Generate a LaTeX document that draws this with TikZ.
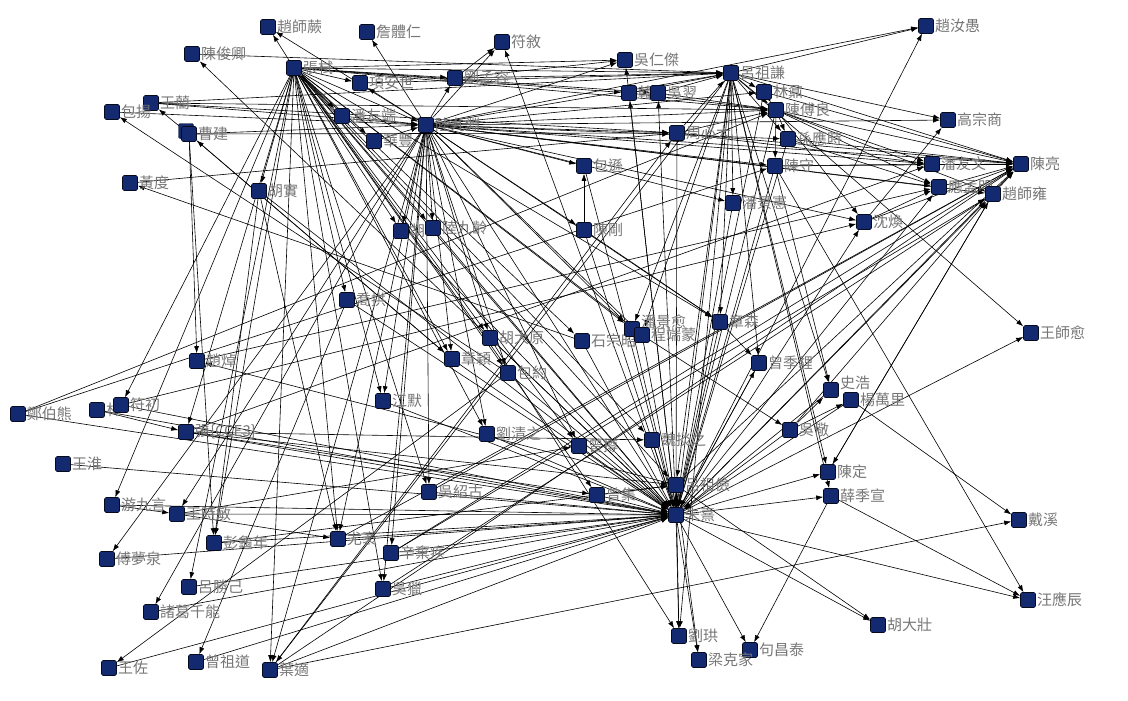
\documentclass[tikz,border=0pt]{standalone}
\usepackage{fontspec}
\setmainfont{Noto Sans CJK TC}
\usetikzlibrary{arrows.meta,backgrounds}
\definecolor{navy}{RGB}{20,42,112}
\definecolor{namegray}{RGB}{118,118,118}

\begin{document}
\begin{tikzpicture}[x=1pt,y=-1pt,
  >={Latex[length=7pt,width=5pt]},
  lbl/.style={text=namegray,font=\fontsize{15}{15}\selectfont,inner sep=1pt},
  actor/.style={draw=black!75!navy,fill=navy,rounded corners=1.5pt,
    minimum size=15pt,inner sep=0pt,line width=0.6pt,
    label={[lbl]right:#1}},
  raised/.style={draw=black!75!navy,fill=navy,rounded corners=1.5pt,
    minimum size=15pt,inner sep=0pt,line width=0.6pt,
    label={[lbl,yshift=7pt]right:#1}},
  tie/.style={->,line width=0.6pt}]

\useasboundingbox (0,0) rectangle (1128,701);

% top row
\node[actor=趙師蕨] (zsj) at (268,27) {};
\node[actor=詹體仁] (zti) at (367,32) {};
\node[actor=符敘] (fxu) at (502,42) {};
\node[actor=陳俊卿] (cjq) at (192,54) {};
\node[actor=張栻] (zs) at (294,68) {};
\node[actor=項安世] (xas) at (360,83) {};
\node[actor=劉孟容] (lmr) at (455,78) {};
\node[actor=吳仁傑] (wrj) at (625,60) {};
\node[actor=呂祖謙] (lzq) at (731,73) {};
\node[actor=趙汝愚] (zry) at (926,26) {};
\node[actor=王藺] (wl) at (151,103) {};
\node[actor=包揚] (by) at (112,112) {};
\node[draw=black!75!navy,fill=navy,rounded corners=1.5pt,minimum size=15pt,inner sep=0pt] at (186,131) {};
\node[actor=曹建] (cj) at (189,134) {};
\node[actor=黃度] (hd) at (130,183) {};
\node[actor=胡實] (hs) at (259,191) {};
\node[actor=潘友端] (pyd) at (342,116) {};
\node[actor=陸九淵] (ljy) at (426,125) {};
\node[actor=華豐] (hf) at (374,141) {};
\node[actor=韓] (han) at (629,93) {};
\node[actor=吳翌] (wy) at (658,93) {};
\node[actor=林鼐] (ln) at (764,92) {};
\node[actor=陳傅良] (cfl) at (776,110) {};
\node[actor=周必大] (zbd) at (677,133) {};
\node[actor=孫應時] (sys) at (788,139) {};
\node[actor=陳守] (cs) at (775,166) {};
\node[actor=包遜] (bx) at (584,166) {};
\node[actor=潘景憲] (pjx) at (733,203) {};
\node[actor=陳剛] (cg) at (584,230) {};
\node[actor=高宗商] (gzs) at (948,120) {};
\node[actor=潘友文] (pyw) at (932,164) {};
\node[actor=陳亮] (cl) at (1021,164) {};
\node[actor=應孟明] (ymm) at (939,187) {};
\node[actor=趙師雍] (zsy) at (993,194) {};
\node[actor=沈煥] (sh) at (864,222) {};

% middle
\node[actor=胡] (hu) at (401,231) {};
\node[actor=陸九齡] (ljl) at (433,228) {};
\node[actor=喬拱] (qg) at (347,300) {};
\node[actor=胡大原] (hdy) at (490,338) {};
\node[actor=章穎] (zy) at (452,359) {};
\node[actor=包約] (byue) at (508,373) {};
\node[actor=江默] (jm) at (383,401) {};
\node[actor=劉清之] (lqz) at (487,434) {};
\node[actor=石宗昭] (szz) at (582,341) {};
\node[raised=潘景愈] (pjy) at (632,329) {};
\node[actor=程端蒙] (cdm) at (642,335) {};
\node[actor=章森] (zsen) at (720,322) {};
\node[actor=曾季貍] (zjl) at (759,363) {};
\node[raised=史浩] (shh) at (831,390) {};
\node[actor=楊萬里] (ywl) at (851,400) {};
\node[actor=吳儆] (wj) at (790,430) {};
\node[actor=曾撙] (zz) at (579,446) {};
\node[actor=魏掞之] (wyz) at (652,440) {};
\node[actor=陳定] (cd) at (828,472) {};
\node[actor=薛季宣] (xjx) at (831,496) {};
\node[actor=王師愈] (wsy) at (1031,333) {};
\node[actor=呂祖儉] (lzj) at (676,485) {};
\node[actor=朱熹] (zx) at (676,515) {};
\node[actor=曾集] (zji) at (597,495) {};

% bottom right
\node[actor=劉珙] (lg) at (679,636) {};
\node[actor=句昌泰] (gct) at (750,650) {};
\node[actor=梁克家] (lkj) at (699,660) {};
\node[actor=戴溪] (dx) at (1019,520) {};
\node[actor=汪應辰] (wyc) at (1028,600) {};
\node[actor=胡大壯] (hdz) at (878,625) {};

% left side
\node[actor=趙焯] (zzh) at (197,361) {};
\node[actor=鄭伯熊] (zbx) at (18,414) {};
\node[actor=林] (xc) at (97,410) {};
\node[actor=符初] (fc) at (121,405) {};
\node[actor=張\{CCE3\}] (zcc) at (186,432) {};
\node[actor=王淮] (wh) at (63,464) {};
\node[actor=游九言] (yjy) at (112,505) {};
\node[actor=王時敏] (wsm) at (177,514) {};
\node[actor=彭龜年] (pgn) at (214,543) {};
\node[actor=傅夢泉] (fmq) at (107,559) {};
\node[actor=呂勝己] (lsj) at (189,587) {};
\node[actor=諸葛千能] (zgq) at (151,612) {};
\node[actor=王佐] (wz) at (109,668) {};
\node[actor=曾祖道] (zzd) at (196,662) {};
\node[actor=葉適] (ysh) at (270,670) {};
\node[actor=吳紹古] (wsg) at (429,492) {};
\node[actor=尤袤] (ym) at (338,539) {};
\node[actor=辛棄疾] (xqj) at (391,553) {};
\node[actor=吳獵] (wlie) at (383,589) {};

\begin{pgfonlayer}{background}
% from zhang shi
\foreach \a/\b in {zs/zsj,zs/pyd,zs/hf,zs/xas,zs/ljy,zs/lzq,zs/lmr,zs/wy,zs/han,zs/cfl,
  zs/hs,zs/qg,zs/hu,zs/ljl,zs/hdy,zs/byue,zs/zy,zs/lqz,zs/zz,zs/cdm,zs/szz,zs/zsen,
  zs/zx,zs/lzj,zs/pgn,zs/yjy,zs/lsj,zs/ym,zs/wlie,zs/ysh,zs/wsg,zs/zji,zs/jm,zs/fc,
  zs/zcc,zs/wyz,zs/pjy,zs/wrj}
  \draw[tie] (\a) -- (\b);
% from lu jiuyuan
\foreach \a/\b in {ljy/zti,ljy/fxu,ljy/zsj,ljy/lzq,ljy/wrj,ljy/zbd,ljy/cfl,ljy/ln,ljy/sys,
  ljy/cl,ljy/pyw,ljy/ymm,ljy/gzs,ljy/bx,ljy/ljl,ljy/hu,ljy/jm,ljy/zy,ljy/hdy,ljy/byue,
  ljy/wsg,ljy/xqj,ljy/fmq,ljy/zgq,ljy/wsm,ljy/zx,ljy/zz,ljy/cg,ljy/pjy,ljy/cdm,ljy/zsen,
  ljy/lqz,ljy/ysh,ljy/sh,ljy/cs,ljy/zry,ljy/zsy,ljy/lmr,ljy/xas,ljy/wlie,ljy/ym,ljy/pjx,
  by/ljy,cj/ljy,wl/ljy,pyd/ljy,hf/ljy}
  \draw[tie] (\a) -- (\b);
% upper part
\foreach \a/\b in {wl/lzq,wl/cfl,wl/zbd,cjq/lzq,zx/cjq,cj/zbd,cj/zy,zy/cj,cj/zzh,cj/pgn,
  cj/wl,byue/by,hd/zbd,szz/hd,xas/lzq,lmr/fxu,lmr/lzq,lmr/wrj,han/wrj,han/lzq,han/zx,
  zx/han,zx/wy,wy/lzq,wy/cfl,han/cfl,lzq/zry,lzq/ln,lzq/cfl,lzq/cl,lzq/wsy,lzq/pjx,
  lzq/zsen,lzq/zjl,lzq/lzj,lzq/zx,lzq/cd,lzq/gzs,lzq/ysh,lzq/pjy,lzq/cdm,lzq/lg,lzq/shh,
  lzq/xjx,zbd/lzq,lzq/sys,ln/cfl,ln/zx,ln/cl,cfl/cl,cfl/pyw,cfl/ymm,cfl/zsy,cfl/sh,
  cfl/sys,zbd/cfl,cfl/zx,cfl/cs,zbd/zx,zbd/cl,zbd/pyw,sys/cl,sys/ymm,sys/zx,cs/wyc,
  cs/cl,cs/zx,cs/pyw,cs/shh,bx/zx,cg/bx,cg/zx,cg/zsen,pjx/zx,sh/gzs,pyw/cl,ymm/cl,
  zsy/cl,sh/cl,sh/ymm,zx/zsy,zx/cl,zx/ymm,zx/sh,zx/zry,zx/fxu}
  \draw[tie] (\a) -- (\b);
% middle and right
\foreach \a/\b in {cd/zsy,zsy/cd,wj/zsy,xqj/zsy,wlie/zsy,xqj/cl,lzj/cl,ysh/cl,wsg/cl,
  ym/cl,zx/cd,zx/xjx,zx/wsy,zx/wyc,zx/hdz,zx/lg,zx/lkj,zx/gct,lzj/hdz,lzj/lkj,lzj/lg,
  lzj/zzh,xjx/wyc,xjx/gct,ysh/dx,ywl/dx,wj/ywl,wj/shh,cdm/wj,zx/zjl,zsen/zjl,hdy/lg,
  hs/zx,qg/zx,qg/zzd,zji/zx,zz/zx,wyz/zx,lqz/zx,hdy/zx,byue/zx,zy/zx,szz/zx,pjy/zx,
  cdm/zx,zsen/zx,zjl/zx,wj/zx,shh/zx,ywl/zx,ljl/zx,hu/zx,lzj/zx,zx/lzj,jm/zx,zji/lzj}
  \draw[tie] (\a) -- (\b);
% left side
\foreach \a/\b in {zbx/cfl,zbx/cs,zbx/zx,xc/zcc,xc/zx,fc/sh,fc/zx,zcc/zx,zcc/lzj,zcc/zji,
  zcc/wyz,zcc/pyw,wh/zx,yjy/zx,yjy/wsm,wsm/zx,wsm/zz,wsm/ym,pgn/lzj,pgn/zx,fmq/zx,
  lsj/zx,zgq/zx,byue/wz,wz/zx,zzd/zx,ysh/zx,ysh/zbd,wsg/zx,ym/zx,xqj/zx,wlie/zx,
  zzh/ymm,hs/pgn,hs/ym}
  \draw[tie] (\a) -- (\b);
\end{pgfonlayer}
\end{tikzpicture}
\end{document}
